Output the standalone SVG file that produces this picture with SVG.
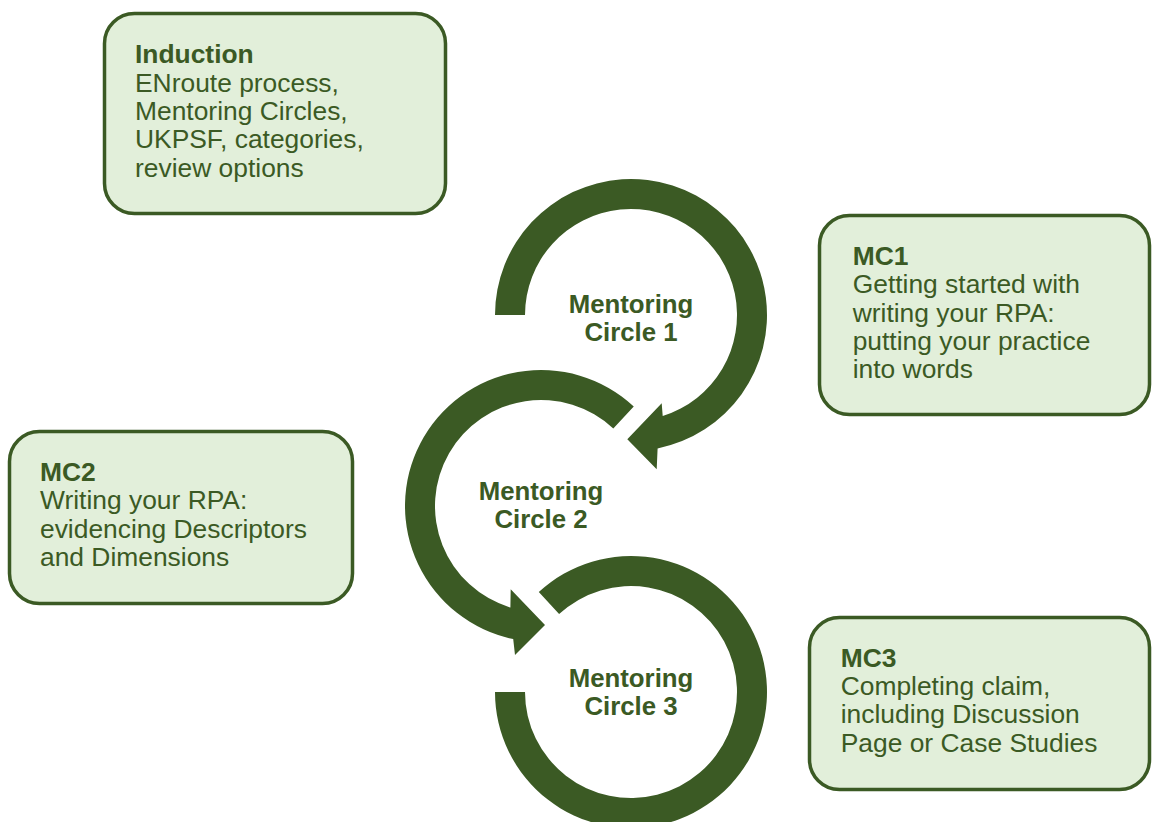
<svg xmlns="http://www.w3.org/2000/svg" width="1152" height="822" viewBox="0 0 1152 822">
<style>
.box{fill:#E2EFDA;stroke:#3B5A24;stroke-width:3.5}
.arr{fill:#3B5A24}
.t{font-family:"Liberation Sans",Arial,sans-serif;font-size:26.4px;fill:#3B5A24}
.b{font-weight:bold}
.c{font-family:"Liberation Sans",Arial,sans-serif;font-size:25.8px;font-weight:bold;fill:#3B5A24;text-anchor:middle}
</style>
<rect width="1152" height="822" fill="#ffffff"/>
<g id="connectors">
<path class="arr" d="M 495 315 A 136 136 0 1 1 657.6 448.4 L 656.7 469.3 L 627.3 439.3 L 661.7 403.3 L 662.7 416.1 A 106 106 0 1 0 525 315 Z"/>
<path class="arr" d="M 633.75 406.5 A 136 136 0 1 0 513.2 639.1 L 515 655 L 545 625 L 510.7 589.3 L 510.4 607.5 A 106 106 0 1 1 613.3 428.5 Z"/>
<path class="arr" d="M 538.8 592.05 A 136 136 0 1 1 495 692 L 525 692 A 106 106 0 1 0 559.1 614.1 Z"/>
</g>
<g id="circle1">
<text class="c" x="631" y="312.7">Mentoring</text>
<text class="c" x="631" y="340.7">Circle 1</text>
</g>
<g id="circle2">
<text class="c" x="541" y="500">Mentoring</text>
<text class="c" x="541" y="528">Circle 2</text>
</g>
<g id="circle3">
<text class="c" x="631" y="686.7">Mentoring</text>
<text class="c" x="631" y="714.7">Circle 3</text>
</g>
<g id="induction">
<rect class="box" x="104.5" y="13.5" width="341" height="200" rx="30"/>
<text class="t b" x="135" y="63.3">Induction</text>
<text class="t" x="135" y="91.6">ENroute process,</text>
<text class="t" x="135" y="119.9">Mentoring Circles,</text>
<text class="t" x="135" y="148.2">UKPSF, categories,</text>
<text class="t" x="135" y="176.5">review options</text>
</g>
<g id="mc1">
<rect class="box" x="819.5" y="215.5" width="330" height="199" rx="30"/>
<text class="t b" x="852.7" y="265">MC1</text>
<text class="t" x="852.7" y="293.3">Getting started with</text>
<text class="t" x="852.7" y="321.6">writing your RPA:</text>
<text class="t" x="852.7" y="349.9">putting your practice</text>
<text class="t" x="852.7" y="378.2">into words</text>
</g>
<g id="mc2">
<rect class="box" x="9.5" y="431.5" width="343" height="172" rx="30"/>
<text class="t b" x="40" y="481">MC2</text>
<text class="t" x="40" y="509.3">Writing your RPA:</text>
<text class="t" x="40" y="537.6">evidencing Descriptors</text>
<text class="t" x="40" y="565.9">and Dimensions</text>
</g>
<g id="mc3">
<rect class="box" x="809.5" y="617.5" width="340" height="172" rx="30"/>
<text class="t b" x="840.7" y="666.7">MC3</text>
<text class="t" x="840.7" y="695">Completing claim,</text>
<text class="t" x="840.7" y="723.3">including Discussion</text>
<text class="t" x="840.7" y="751.6">Page or Case Studies</text>
</g>
</svg>
